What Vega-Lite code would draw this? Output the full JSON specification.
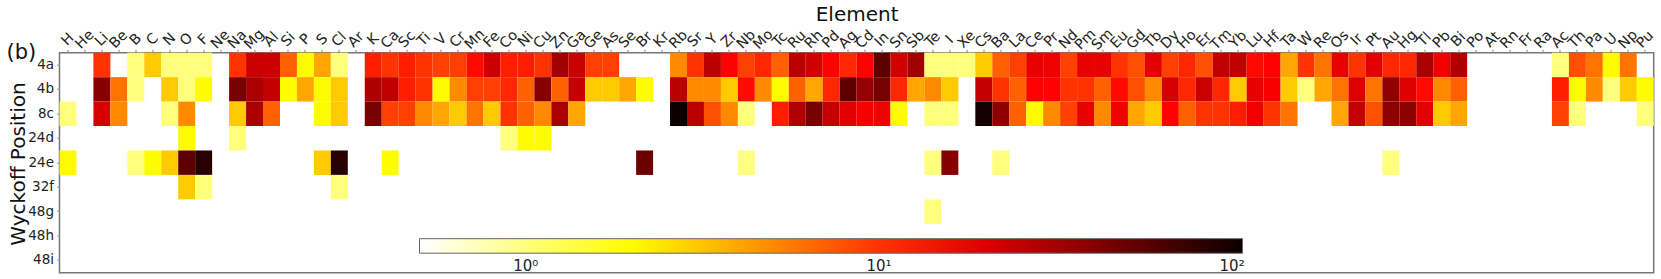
{"$schema":"https://vega.github.io/schema/vega-lite/v6.json",
"autosize":{"type":"none"},
"padding":{"left":59.5,"top":52.7,"right":7.3,"bottom":6.3},
"width":1594.2,"height":220,
"background":"white",
"config":{"font":"DejaVu Sans","view":{"stroke":"#777777","strokeWidth":1.5}},
"title":{"text":"(b)","anchor":"start","frame":"group","fontSize":21,"fontWeight":"normal","font":"DejaVu Sans","color":"#111111","dx":-53,"dy":58,"offset":0},
"data":{"values":[
{"e":"Li","w":"4a","v":10},{"e":"B","w":"4a","v":1},{"e":"C","w":"4a","v":3},{"e":"N","w":"4a","v":1},{"e":"O","w":"4a","v":1},{"e":"F","w":"4a","v":1},{"e":"Na","w":"4a","v":10},{"e":"Mg","w":"4a","v":23},{"e":"Al","w":"4a","v":23},{"e":"Si","w":"4a","v":7},{"e":"P","w":"4a","v":2},{"e":"S","w":"4a","v":4},{"e":"Cl","w":"4a","v":1},{"e":"K","w":"4a","v":12},{"e":"Ca","w":"4a","v":10},{"e":"Sc","w":"4a","v":12},{"e":"Ti","w":"4a","v":10},{"e":"V","w":"4a","v":9},{"e":"Cr","w":"4a","v":9},{"e":"Mn","w":"4a","v":14},{"e":"Fe","w":"4a","v":23},{"e":"Co","w":"4a","v":12},{"e":"Ni","w":"4a","v":12},{"e":"Cu","w":"4a","v":10},{"e":"Zn","w":"4a","v":32},{"e":"Ga","w":"4a","v":23},{"e":"Ge","w":"4a","v":9},{"e":"As","w":"4a","v":9},{"e":"Rb","w":"4a","v":5},{"e":"Sr","w":"4a","v":10},{"e":"Y","w":"4a","v":26},{"e":"Zr","w":"4a","v":15},{"e":"Nb","w":"4a","v":9},{"e":"Mo","w":"4a","v":11},{"e":"Tc","w":"4a","v":7},{"e":"Ru","w":"4a","v":26},{"e":"Rh","w":"4a","v":22},{"e":"Pd","w":"4a","v":15},{"e":"Ag","w":"4a","v":11},{"e":"Cd","w":"4a","v":15},{"e":"In","w":"4a","v":55},{"e":"Sn","w":"4a","v":22},{"e":"Sb","w":"4a","v":32},{"e":"Te","w":"4a","v":1},{"e":"I","w":"4a","v":1},{"e":"Xe","w":"4a","v":1},{"e":"Cs","w":"4a","v":3},{"e":"Ba","w":"4a","v":7},{"e":"La","w":"4a","v":9},{"e":"Ce","w":"4a","v":18},{"e":"Pr","w":"4a","v":17},{"e":"Nd","w":"4a","v":9},{"e":"Pm","w":"4a","v":18},{"e":"Sm","w":"4a","v":18},{"e":"Eu","w":"4a","v":10},{"e":"Gd","w":"4a","v":8},{"e":"Tb","w":"4a","v":19},{"e":"Dy","w":"4a","v":9},{"e":"Ho","w":"4a","v":11},{"e":"Er","w":"4a","v":8},{"e":"Tm","w":"4a","v":25},{"e":"Yb","w":"4a","v":25},{"e":"Lu","w":"4a","v":14},{"e":"Hf","w":"4a","v":15},{"e":"Ta","w":"4a","v":4},{"e":"W","w":"4a","v":10},{"e":"Re","w":"4a","v":6},{"e":"Os","w":"4a","v":18},{"e":"Ir","w":"4a","v":10},{"e":"Pt","w":"4a","v":19},{"e":"Au","w":"4a","v":11},{"e":"Hg","w":"4a","v":11},{"e":"Tl","w":"4a","v":30},{"e":"Pb","w":"4a","v":17},{"e":"Bi","w":"4a","v":29},{"e":"Ac","w":"4a","v":1},{"e":"Th","w":"4a","v":8},{"e":"Pa","w":"4a","v":6},{"e":"U","w":"4a","v":2},{"e":"Np","w":"4a","v":6},
{"e":"Li","w":"4b","v":40},{"e":"Be","w":"4b","v":6},{"e":"B","w":"4b","v":1},{"e":"N","w":"4b","v":3},{"e":"O","w":"4b","v":1},{"e":"F","w":"4b","v":2},{"e":"Na","w":"4b","v":45},{"e":"Mg","w":"4b","v":30},{"e":"Al","w":"4b","v":24},{"e":"Si","w":"4b","v":2},{"e":"P","w":"4b","v":4},{"e":"S","w":"4b","v":2},{"e":"Cl","w":"4b","v":3},{"e":"K","w":"4b","v":29},{"e":"Ca","w":"4b","v":25},{"e":"Sc","w":"4b","v":12},{"e":"Ti","w":"4b","v":10},{"e":"V","w":"4b","v":2},{"e":"Cr","w":"4b","v":5},{"e":"Mn","w":"4b","v":9},{"e":"Fe","w":"4b","v":9},{"e":"Co","w":"4b","v":11},{"e":"Ni","w":"4b","v":7},{"e":"Cu","w":"4b","v":40},{"e":"Zn","w":"4b","v":7},{"e":"Ga","w":"4b","v":24},{"e":"Ge","w":"4b","v":3},{"e":"As","w":"4b","v":3},{"e":"Se","w":"4b","v":4},{"e":"Br","w":"4b","v":2},{"e":"Rb","w":"4b","v":26},{"e":"Sr","w":"4b","v":5},{"e":"Y","w":"4b","v":5},{"e":"Zr","w":"4b","v":3},{"e":"Nb","w":"4b","v":14},{"e":"Mo","w":"4b","v":5},{"e":"Tc","w":"4b","v":2},{"e":"Ru","w":"4b","v":7},{"e":"Rh","w":"4b","v":4},{"e":"Pd","w":"4b","v":11},{"e":"Ag","w":"4b","v":55},{"e":"Cd","w":"4b","v":35},{"e":"In","w":"4b","v":45},{"e":"Sn","w":"4b","v":11},{"e":"Sb","w":"4b","v":4},{"e":"Te","w":"4b","v":5},{"e":"I","w":"4b","v":3},{"e":"Cs","w":"4b","v":24},{"e":"Ba","w":"4b","v":10},{"e":"La","w":"4b","v":7},{"e":"Ce","w":"4b","v":15},{"e":"Pr","w":"4b","v":15},{"e":"Nd","w":"4b","v":10},{"e":"Pm","w":"4b","v":10},{"e":"Sm","w":"4b","v":7},{"e":"Eu","w":"4b","v":14},{"e":"Gd","w":"4b","v":8},{"e":"Tb","w":"4b","v":5},{"e":"Dy","w":"4b","v":21},{"e":"Ho","w":"4b","v":11},{"e":"Er","w":"4b","v":23},{"e":"Tm","w":"4b","v":11},{"e":"Yb","w":"4b","v":3},{"e":"Lu","w":"4b","v":18},{"e":"Hf","w":"4b","v":16},{"e":"Ta","w":"4b","v":3},{"e":"W","w":"4b","v":1},{"e":"Re","w":"4b","v":4},{"e":"Os","w":"4b","v":6},{"e":"Ir","w":"4b","v":20},{"e":"Pt","w":"4b","v":6},{"e":"Au","w":"4b","v":37},{"e":"Hg","w":"4b","v":20},{"e":"Tl","w":"4b","v":14},{"e":"Pb","w":"4b","v":5},{"e":"Bi","w":"4b","v":7},{"e":"Ac","w":"4b","v":12},{"e":"Th","w":"4b","v":2},{"e":"Pa","w":"4b","v":5},{"e":"U","w":"4b","v":1},{"e":"Np","w":"4b","v":3},{"e":"Pu","w":"4b","v":2},
{"e":"H","w":"8c","v":1},{"e":"Li","w":"8c","v":21},{"e":"Be","w":"8c","v":5},{"e":"N","w":"8c","v":1},{"e":"O","w":"8c","v":5},{"e":"Na","w":"8c","v":3},{"e":"Mg","w":"8c","v":30},{"e":"Al","w":"8c","v":7},{"e":"S","w":"8c","v":2},{"e":"Cl","w":"8c","v":3},{"e":"K","w":"8c","v":45},{"e":"Ca","w":"8c","v":9},{"e":"Sc","w":"8c","v":9},{"e":"Ti","w":"8c","v":5},{"e":"V","w":"8c","v":4},{"e":"Cr","w":"8c","v":3},{"e":"Mn","w":"8c","v":6},{"e":"Fe","w":"8c","v":3},{"e":"Co","w":"8c","v":10},{"e":"Ni","w":"8c","v":7},{"e":"Cu","w":"8c","v":5},{"e":"Zn","w":"8c","v":30},{"e":"Ga","w":"8c","v":4},{"e":"Rb","w":"8c","v":107},{"e":"Sr","w":"8c","v":26},{"e":"Y","w":"8c","v":8},{"e":"Zr","w":"8c","v":5},{"e":"Nb","w":"8c","v":1},{"e":"Tc","w":"8c","v":12},{"e":"Ru","w":"8c","v":28},{"e":"Rh","w":"8c","v":45},{"e":"Pd","w":"8c","v":24},{"e":"Ag","w":"8c","v":19},{"e":"Cd","w":"8c","v":16},{"e":"In","w":"8c","v":17},{"e":"Sn","w":"8c","v":2},{"e":"Te","w":"8c","v":1},{"e":"I","w":"8c","v":1},{"e":"Cs","w":"8c","v":100},{"e":"Ba","w":"8c","v":37},{"e":"La","w":"8c","v":7},{"e":"Ce","w":"8c","v":2},{"e":"Pr","w":"8c","v":5},{"e":"Nd","w":"8c","v":9},{"e":"Pm","w":"8c","v":18},{"e":"Sm","w":"8c","v":5},{"e":"Eu","w":"8c","v":17},{"e":"Gd","w":"8c","v":4},{"e":"Tb","w":"8c","v":3},{"e":"Dy","w":"8c","v":15},{"e":"Ho","w":"8c","v":7},{"e":"Er","w":"8c","v":10},{"e":"Tm","w":"8c","v":10},{"e":"Yb","w":"8c","v":12},{"e":"Lu","w":"8c","v":17},{"e":"Hf","w":"8c","v":10},{"e":"Ta","w":"8c","v":6},{"e":"Os","w":"8c","v":4},{"e":"Ir","w":"8c","v":24},{"e":"Pt","w":"8c","v":8},{"e":"Au","w":"8c","v":38},{"e":"Hg","w":"8c","v":38},{"e":"Tl","w":"8c","v":19},{"e":"Pb","w":"8c","v":3},{"e":"Bi","w":"8c","v":4},{"e":"Ac","w":"8c","v":9},{"e":"Th","w":"8c","v":1},{"e":"Pu","w":"8c","v":1},
{"e":"O","w":"24d","v":2},{"e":"Na","w":"24d","v":1},{"e":"Co","w":"24d","v":1},{"e":"Ni","w":"24d","v":2},{"e":"Cu","w":"24d","v":2},
{"e":"H","w":"24e","v":2},{"e":"B","w":"24e","v":1},{"e":"C","w":"24e","v":2},{"e":"N","w":"24e","v":3},{"e":"O","w":"24e","v":55},{"e":"F","w":"24e","v":85},{"e":"S","w":"24e","v":3},{"e":"Cl","w":"24e","v":85},{"e":"Ca","w":"24e","v":2},{"e":"Br","w":"24e","v":50},{"e":"Nb","w":"24e","v":1},{"e":"Te","w":"24e","v":1},{"e":"I","w":"24e","v":40},{"e":"Ba","w":"24e","v":1},{"e":"Au","w":"24e","v":1},
{"e":"O","w":"32f","v":3},{"e":"F","w":"32f","v":1},{"e":"Cl","w":"32f","v":1},
{"e":"Te","w":"48g","v":1}
]},
"mark":{"type":"rect","stroke":null},
"encoding":{
"x":{"field":"e","type":"nominal","sort":null,"scale":{"domain":["H","He","Li","Be","B","C","N","O","F","Ne","Na","Mg","Al","Si","P","S","Cl","Ar","K","Ca","Sc","Ti","V","Cr","Mn","Fe","Co","Ni","Cu","Zn","Ga","Ge","As","Se","Br","Kr","Rb","Sr","Y","Zr","Nb","Mo","Tc","Ru","Rh","Pd","Ag","Cd","In","Sn","Sb","Te","I","Xe","Cs","Ba","La","Ce","Pr","Nd","Pm","Sm","Eu","Gd","Tb","Dy","Ho","Er","Tm","Yb","Lu","Hf","Ta","W","Re","Os","Ir","Pt","Au","Hg","Tl","Pb","Bi","Po","At","Rn","Fr","Ra","Ac","Th","Pa","U","Np","Pu"],"paddingInner":0,"paddingOuter":0},
"axis":{"orient":"top","title":"Element","titleFontSize":20,"titleFontWeight":"normal","titleFont":"DejaVu Sans","titleColor":"#111111","titleX":797.1,"titleY":-32,"titleBaseline":"alphabetic","labelAngle":-45,"labelAlign":"center","labelBaseline":"middle","labelFontSize":14.3,"labelFont":"DejaVu Sans","labelColor":"#222222","labelPadding":10,"labelOverlap":false,"labelBound":false,"labelFlush":false,"tickSize":3.5,"tickColor":"#888888","tickWidth":1,"domain":false,"grid":false}},
"y":{"field":"w","type":"nominal","sort":null,"scale":{"domain":["4a","4b","8c","24d","24e","32f","48g","48h","48i"],"paddingInner":0,"paddingOuter":0},
"axis":{"title":"Wyckoff Position","titleFontSize":20,"titleFontWeight":"normal","titleFont":"DejaVu Sans","titleColor":"#111111","titleX":-35.5,"titleY":110.8,"titleAngle":-90,"titleBaseline":"alphabetic","labelFontSize":13.5,"labelFont":"DejaVu Sans","labelColor":"#222222","labelPadding":3,"tickSize":3,"tickColor":"#999999","domain":false,"grid":false}},
"color":{"field":"v","type":"quantitative","scale":{"type":"log","domain":[0.5,1.955,15.09,107],"range":["#ffffff","#ffff00","#ff0000","#0b0000"],"interpolate":"rgb","nice":false,"clamp":true},
"legend":{"orient":"none","legendX":360,"legendY":186,"direction":"horizontal","title":null,"gradientLength":823,"gradientThickness":14.5,"gradientStrokeColor":"#666666","gradientStrokeWidth":1,"values":[1,10,100],"labelExpr":"datum.value==1?'10⁰':datum.value==10?'10¹':'10²'","labelFontSize":15,"labelFont":"DejaVu Sans","labelColor":"#222222","labelOffset":6,"labelOverlap":false}}
}}
